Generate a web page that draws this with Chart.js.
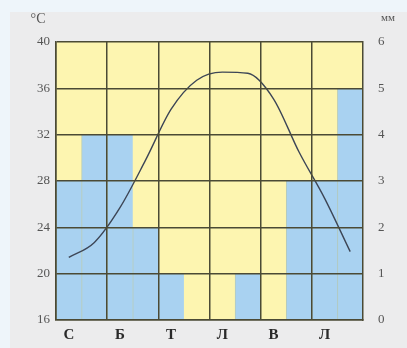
<!DOCTYPE html>
<html>
<head>
<meta charset="utf-8">
<script src="https://cdn.jsdelivr.net/npm/chart.js@4"></script>
<style>
  html, body { margin: 0; padding: 0; background: #eef5fa; }
  #box { width: 407px; height: 348px; }
</style>
</head>
<body>
<div id="box"><canvas id="climateChart" width="407" height="348"></canvas></div>
<script>
  // Monthly data: temperature (°C, left axis) and precipitation (мм, right axis)
  const months = ['С', 'Л', 'Б', 'К', 'Т', 'Ч', 'Л', 'С', 'В', 'Ж', 'Л', 'Г'];
  const temperature = [21.4, 22.7, 25.7, 29.8, 34.2, 36.7, 37.4, 37.3, 35.1, 30.5, 26.5, 21.9];
  const precipitation = [3, 4, 4, 2, 1, 0, 0, 1, 0, 3, 3, 5];
  const tempTicks = [16, 20, 24, 28, 32, 36, 40];
  const rainTicks = [0, 1, 2, 3, 4, 5, 6];

  const gridColor = '#4b4a35';

  // Paper panel + yellow plot area behind the bars
  const backdrop = {
    id: 'backdrop',
    beforeDraw(chart) {
      const { ctx, chartArea } = chart;
      ctx.save();
      ctx.fillStyle = '#eef5fa';
      ctx.fillRect(0, 0, chart.width, chart.height);
      ctx.fillStyle = '#ececed';
      ctx.fillRect(10, 12, chart.width - 10, chart.height - 12);
      ctx.fillStyle = '#fdf5b0';
      ctx.fillRect(chartArea.left, chartArea.top, chartArea.right - chartArea.left, chartArea.bottom - chartArea.top);
      ctx.restore();
    },
    afterDraw(chart) {
      const { ctx } = chart;
      ctx.save();
      ctx.fillStyle = '#555';
      ctx.font = '14px "Liberation Serif"';
      ctx.textBaseline = 'middle';
      ctx.textAlign = 'center';
      ctx.fillText('°C', 38, 19);
      ctx.font = '11px "Liberation Serif"';
      ctx.fillText('мм', 388, 18);
      ctx.restore();
    }
  };

  const ctx = document.getElementById('climateChart').getContext('2d');
  const climateChart = new Chart(ctx, {
    data: {
      labels: months,
      datasets: [{
        type: 'line',
        label: 'Температура',
        data: temperature,
        yAxisID: 'y',
        borderColor: '#3d4656',
        borderWidth: 1.4,
        pointRadius: 0,
        cubicInterpolationMode: 'monotone',
        fill: false,
        order: 0
      }, {
        type: 'bar',
        label: 'Опади',
        data: precipitation,
        yAxisID: 'y1',
        backgroundColor: '#a9d2f1',
        borderColor: 'rgba(110, 160, 200, 0.5)',
        borderWidth: { left: 1, right: 0, top: 0, bottom: 0 },
        borderSkipped: false,
        barPercentage: 1,
        categoryPercentage: 1,
        order: 1
      }]
    },
    options: {
      responsive: false,
      animation: false,
      layout: { padding: { top: 42, left: 0, right: 0, bottom: 0 } },
      plugins: {
        legend: { display: false },
        tooltip: { enabled: false }
      },
      scales: {
        x: {
          offset: true,
          afterFit: (scale) => { scale.height = 28; },
          grid: {
            offset: true,
            z: 1,
            drawTicks: false,
            lineWidth: 1.5,
            color: (c) => (c.index % 2 === 0 ? gridColor : 'rgba(0,0,0,0)')
          },
          border: { display: true, color: gridColor, width: 1.5, z: 1 },
          ticks: {
            autoSkip: false,
            maxRotation: 0,
            padding: 6,
            color: '#2a2a2a',
            font: { family: '"Liberation Serif"', size: 15, weight: 'bold' },
            callback: (v, i) => (i % 2 === 0 ? months[i] : '')
          }
        },
        y: {
          position: 'left',
          min: 16,
          max: 40,
          afterFit: (scale) => { scale.width = 56; },
          afterBuildTicks: (scale) => { scale.ticks = tempTicks.map(v => ({ value: v })); },
          grid: { z: 1, drawTicks: false, lineWidth: 1.5, color: gridColor },
          border: { display: true, color: gridColor, width: 1.5, z: 1 },
          ticks: {
            padding: 6,
            color: '#555',
            font: { family: '"Liberation Serif"', size: 13 }
          }
        },
        y1: {
          position: 'right',
          min: 0,
          max: 6,
          afterFit: (scale) => { scale.width = 44; },
          afterBuildTicks: (scale) => { scale.ticks = rainTicks.map(v => ({ value: v })); },
          grid: { display: false },
          border: { display: true, color: gridColor, width: 1.5, z: 1 },
          ticks: {
            padding: 7,
            color: '#555',
            font: { family: '"Liberation Serif"', size: 13 }
          }
        }
      }
    },
    plugins: [backdrop]
  });
</script>
</body>
</html>
